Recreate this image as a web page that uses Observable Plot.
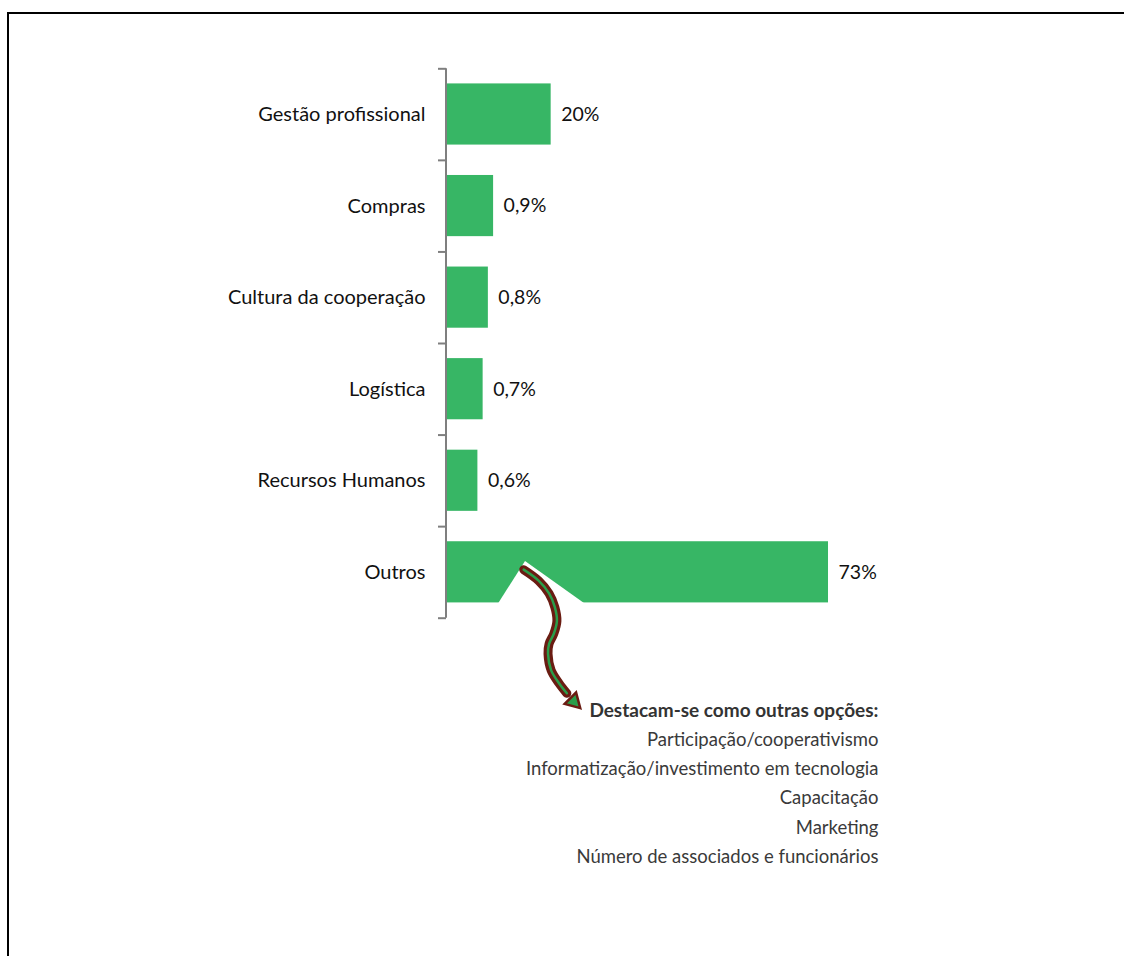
<!DOCTYPE html>
<html>
<head>
<meta charset="utf-8">
<script src="https://cdn.jsdelivr.net/npm/d3@7"></script>
<script src="https://cdn.jsdelivr.net/npm/@observablehq/plot@0.6"></script>
<style>
  html, body { margin: 0; padding: 0; background: #fff; }
  #wrap { position: relative; width: 1124px; height: 956px; overflow: hidden; }
  #frame { position: absolute; left: 7px; top: 12px; width: 1200px; height: 1000px;
           border-left: 2.5px solid #000; border-top: 2.5px solid #000; }
  #chart { position: absolute; left: 0; top: 0; }
</style>
</head>
<body>
<div id="wrap"><div id="frame"></div><div id="chart"></div></div>
<script>
// ---- data ----
const categories = ["Gestão profissional", "Compras", "Cultura da cooperação", "Logística", "Recursos Humanos", "Outros"];
const values = [20, 9, 8, 7, 6, 73];               // bar lengths as drawn
const valueLabels = ["20%", "0,9%", "0,8%", "0,7%", "0,6%", "73%"];
const noteTitle = "Destacam-se como outras opções:";
const noteLines = ["Participação/cooperativismo", "Informatização/investimento em tecnologia", "Capacitação", "Marketing", "Número de associados e funcionários"];
// annotation geometry in data units (x = value, y = category index)
const notchX = [9.75, 15.1, 26.9];
const notchTop = [5.86, 5.38, 5.86];
const arrowX = [14.75, 17.6, 19.6, 20.7, 21.1, 20.5, 19.6, 19.4, 20.0, 21.5, 23.0];
const arrowY = [5.47, 5.59, 5.73, 5.88, 6.03, 6.17, 6.28, 6.39, 6.57, 6.71, 6.82];
const arrowTip = {x: 24.3, y: 6.91};

const rows = categories.map((c, i) => ({cat: c, i, value: values[i], label: valueLabels[i]}));
const notch = notchX.map((x, k) => ({x, top: notchTop[k]}));
const arrow = arrowX.map((x, k) => ({x, y: arrowY[k]}));

const green = "#37b665";
const font = "Lato, 'Open Sans', sans-serif";

const plot = Plot.plot({
  width: 1124,
  height: 956,
  marginLeft: 446,
  marginRight: 154.7,
  marginTop: 0,
  marginBottom: 0,
  style: {fontFamily: font, background: "transparent"},
  x: {domain: [0, 100], axis: null},
  y: {domain: [0, 6], range: [68.3, 617.7], axis: null},
  marks: [
    Plot.rectX(rows, {x1: 0, x2: "value", y1: d => d.i + 0.165, y2: d => d.i + 0.833, fill: green}),
    Plot.areaY(notch, {x: "x", y1: 5.86, y2: "top", fill: "#fff"}),
    Plot.ruleX([0], {y1: 0, y2: 6, stroke: "#7f7f7f", strokeWidth: 2, dx: -0.5}),
    Plot.axisY(d3.range(7), {anchor: "left", tickSize: 8, tickFormat: () => "", stroke: "#7f7f7f", strokeWidth: 2, label: null}),
    Plot.text(rows, {x: 0, y: d => d.i + 0.5, text: "cat", textAnchor: "end", dx: -21, fontSize: 20, fill: "#111"}),
    Plot.text(rows, {x: "value", y: d => d.i + 0.5, text: "label", textAnchor: "start", dx: 10, fontSize: 19.5, fill: "#111"}),
    Plot.line(arrow, {x: "x", y: "y", curve: "catmull-rom", stroke: "#6a1c12", strokeWidth: 9}),
    Plot.line(arrow, {x: "x", y: "y", curve: "catmull-rom", stroke: "#2a9d4a", strokeWidth: 2.5}),
    Plot.dot([arrowTip], {x: "x", y: "y", symbol: "triangle", rotate: 135, r: 6, fill: "#2a9d4a", stroke: "#6a1c12", strokeWidth: 2.5}),
    Plot.text([noteTitle], {x: 82.55, y: 7.017, text: d => d, textAnchor: "end", fontWeight: "bold", fontSize: 19, fill: "#333"}),
    Plot.text([noteLines.join("\n")], {x: 82.55, y: 7.93, text: d => d, textAnchor: "end", lineAnchor: "middle", lineHeight: 1.58, fontSize: 18.5, fill: "#3a3a3a"})
  ]
});
document.getElementById("chart").appendChild(plot);
</script>
</body>
</html>
